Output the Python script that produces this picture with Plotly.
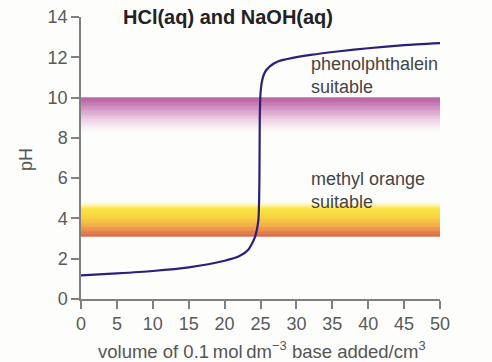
import plotly.graph_objects as go

# Titration curve data (volume of base / cm3, pH)
volume = [0, 5, 10, 15, 20, 22, 23.3, 24.2, 24.7, 24.85, 24.9, 25.0, 25.2, 25.6, 26.3, 27.5, 29.5, 32, 36, 40, 45, 50]
ph = [1.17, 1.27, 1.39, 1.57, 1.9, 2.12, 2.45, 3.05, 3.9, 6.0, 9.0, 10.2, 10.8, 11.25, 11.55, 11.8, 11.97, 12.12, 12.3, 12.45, 12.6, 12.7]

# Indicator bands: gradient stops (pH, colour)
pp_ph = [10.0, 9.7, 9.3, 8.9, 8.5, 8.3]
pp_colors = ['#9a2680', '#b04c98', '#cc88bd', '#e6c4df', '#f7ecf4', '#fdfbfc']
mo_ph = [3.1, 3.35, 3.7, 4.1, 4.5, 4.65, 4.8]
mo_colors = ['#c5300c', '#e05a12', '#f09a08', '#f5c800', '#f8e010', '#fbf090', '#fdfbf0']

x_ticks = [0, 5, 10, 15, 20, 25, 30, 35, 40, 45, 50]
y_ticks = [0, 2, 4, 6, 8, 10, 12, 14]


def hex2rgb(h):
    h = h.lstrip('#')
    return tuple(int(h[i:i + 2], 16) for i in (0, 2, 4))


def lerp_color(stops_v, stops_c, v):
    for i in range(len(stops_v) - 1):
        a, b = stops_v[i], stops_v[i + 1]
        lo, hi = min(a, b), max(a, b)
        if lo <= v <= hi:
            t = (v - a) / (b - a) if b != a else 0
            ca, cb = hex2rgb(stops_c[i]), hex2rgb(stops_c[i + 1])
            c = [round(ca[k] + (cb[k] - ca[k]) * t) for k in range(3)]
            return 'rgb(%d,%d,%d)' % tuple(c)
    return stops_c[-1]


def gradient_shapes(stops_v, stops_c, x0, x1, n=60):
    v0, v1 = stops_v[0], stops_v[-1]
    shapes = []
    for i in range(n):
        a = v0 + (v1 - v0) * i / n
        b = v0 + (v1 - v0) * (i + 1) / n
        mid = (a + b) / 2
        shapes.append(dict(type='rect', xref='x', yref='y', x0=x0, x1=x1,
                           y0=min(a, b), y1=max(a, b), line=dict(width=0),
                           fillcolor=lerp_color(stops_v, stops_c, mid), layer='below'))
    return shapes


shapes = gradient_shapes(pp_ph, pp_colors, x_ticks[0], x_ticks[-1]) + \
    gradient_shapes(mo_ph, mo_colors, x_ticks[0], x_ticks[-1])

fig = go.Figure()
fig.add_trace(go.Scatter(x=volume, y=ph, mode='lines',
                         line=dict(color='#2b1f7a', width=2.2, shape='spline', smoothing=0.6),
                         hoverinfo='skip', showlegend=False))

FONT = 'Liberation Sans, Arial, sans-serif'
tick_font = dict(family=FONT, size=18, color='#5a5a5a')
axis_common = dict(showline=True, linecolor='#808080', linewidth=1.5, ticks='outside',
                   ticklen=8, tickwidth=1.5, tickcolor='#808080', showgrid=False,
                   zeroline=False, tickfont=tick_font, automargin=False)

fig.update_layout(
    width=492, height=362,
    margin=dict(l=81, r=52, t=17, b=63),
    paper_bgcolor='#fdfdfb', plot_bgcolor='#fdfdfb',
    shapes=shapes,
    xaxis=dict(range=[0, 50], tickvals=x_ticks, **axis_common),
    yaxis=dict(range=[0, 14], tickvals=y_ticks, **axis_common),
    annotations=[
        dict(text='<b>HCl(aq) and NaOH(aq)</b>', xref='paper', yref='paper', x=0.41, y=1.0,
             xanchor='center', yanchor='middle', showarrow=False,
             font=dict(family='Liberation Sans Narrow, Arial Narrow, Liberation Sans, sans-serif', size=20, color='#222222')),
        dict(text='phenolphthalein<br>suitable', xref='x', yref='y', x=31.8, y=11.12,
             xanchor='left', yanchor='middle', align='left', showarrow=False,
             font=dict(family=FONT, size=18, color='#444444')),
        dict(text='methyl orange<br>suitable', xref='x', yref='y', x=31.8, y=5.4,
             xanchor='left', yanchor='middle', align='left', showarrow=False,
             font=dict(family=FONT, size=18, color='#444444')),
        dict(text='volume of 0.1\u2009mol\u2009dm<sup>\u22123</sup> base added/cm<sup>3</sup>',
             xref='paper', yref='paper', x=0.504, y=-0.18, xanchor='center', yanchor='middle',
             showarrow=False, font=dict(family=FONT, size=18.5, color='#555555')),
        dict(text='pH', xref='paper', yref='paper', x=-0.153, y=0.493, xanchor='center',
             yanchor='middle', textangle=-90, showarrow=False,
             font=dict(family=FONT, size=18, color='#555555')),
    ],
)

fig.write_html('out.html', config={'displayModeBar': False},
               post_script="document.body.style.margin='0';")
